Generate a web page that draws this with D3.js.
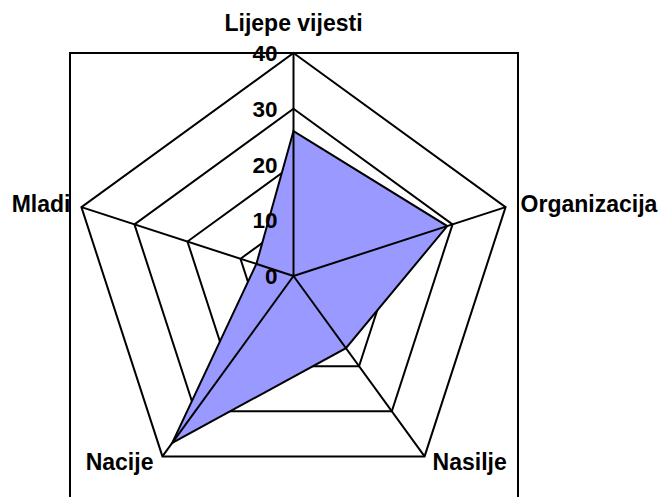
<!DOCTYPE html>
<html>
<head>
<meta charset="utf-8">
<script src="https://cdn.jsdelivr.net/npm/d3@7"></script>
<style>
	body { margin: 0; background: #fff; }
	svg { display: block; }
	text { font-family: "Liberation Sans", Arial, sans-serif; font-weight: bold; fill: #000; }
</style>
</head>
<body>
<script>
var categories = ['Lijepe vijesti', 'Organizacija', 'Nasilje', 'Nacije', 'Mladi'];
var values = [26, 29, 16, 37, 7];
var ticks = [0, 10, 20, 30, 40];

var width = 659;
var height = 497;
var cx = 293.5;
var cy = 276;

var svg = d3.select('body')
	.append('svg')
	.attr('width', width)
	.attr('height', height);

var r = d3.scaleLinear()
	.domain([0, 40])
	.range([0, 223]);

var angle = d3.scalePoint()
	.domain(categories)
	.range([0, 2 * Math.PI * (categories.length - 1) / categories.length]);

function pt(cat, v) {
	var a = angle(cat);
	return [cx + r(v) * Math.sin(a), cy - r(v) * Math.cos(a)];
}

// plot frame
svg.append('rect')
	.attr('x', 70)
	.attr('y', 53)
	.attr('width', 448)
	.attr('height', 460)
	.attr('fill', 'none')
	.attr('stroke', '#000')
	.attr('stroke-width', 2);

var line = d3.line().curve(d3.curveLinearClosed);

// rings
svg.selectAll('path.ring')
	.data(ticks.slice(1))
	.enter()
	.append('path')
	.attr('class', 'ring')
	.attr('d', function(t) {
		return line(categories.map(function(c) { return pt(c, t); }));
	})
	.attr('fill', 'none')
	.attr('stroke', '#000')
	.attr('stroke-width', 2);

// series
svg.append('path')
	.attr('d', line(categories.map(function(c, i) { return pt(c, values[i]); })))
	.attr('fill', '#9999ff')
	.attr('stroke', '#000')
	.attr('stroke-width', 2)
	.attr('stroke-linejoin', 'miter');

// spokes
svg.selectAll('line.spoke')
	.data(categories)
	.enter()
	.append('line')
	.attr('class', 'spoke')
	.attr('x1', cx)
	.attr('y1', cy)
	.attr('x2', function(c) { return pt(c, 40)[0]; })
	.attr('y2', function(c) { return pt(c, 40)[1]; })
	.attr('stroke', '#000')
	.attr('stroke-width', 2);

// tick labels
svg.selectAll('text.tick')
	.data(ticks)
	.enter()
	.append('text')
	.attr('class', 'tick')
	.attr('x', cx - 16)
	.attr('y', function(t) { return cy - r(t); })
	.attr('dy', '0.36em')
	.attr('text-anchor', 'end')
	.style('font-size', '22.5px')
	.text(function(t) { return t; });

// category labels
var labelPos = {
	'Lijepe vijesti': { dx: 0, dy: -30, anchor: 'middle' },
	'Organizacija': { dx: 15, dy: -3, anchor: 'start' },
	'Nasilje': { dx: 8, dy: 5, anchor: 'start' },
	'Nacije': { dx: -9, dy: 5, anchor: 'end' },
	'Mladi': { dx: -11, dy: -3, anchor: 'end' }
};

svg.selectAll('text.cat')
	.data(categories)
	.enter()
	.append('text')
	.attr('class', 'cat')
	.attr('x', function(c) { return pt(c, 40)[0] + labelPos[c].dx; })
	.attr('y', function(c) { return pt(c, 40)[1] + labelPos[c].dy; })
	.attr('dy', '0.36em')
	.attr('text-anchor', function(c) { return labelPos[c].anchor; })
	.style('font-size', '23px')
	.text(function(c) { return c; });
</script>
</body>
</html>
